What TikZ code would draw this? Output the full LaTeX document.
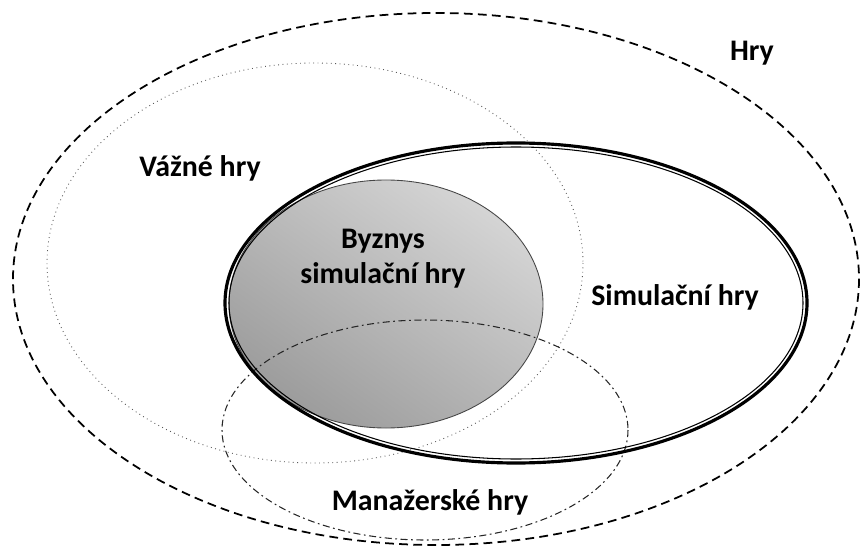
\documentclass[tikz,border=0pt]{standalone}
\usepackage{fontspec}
\setmainfont{Carlito}

\begin{document}
\begin{tikzpicture}[x=0.02cm,y=-0.02cm]
    \tikzstyle{gamename}=[font=\bfseries\fontsize{17}{20}\selectfont,align=center,inner sep=0pt]
    \useasboundingbox (0,0) rectangle (865,547);

    % Byznys simulacni hry
    \shade[top color=gray!33, middle color=gray!42, bottom color=gray!78, shading angle=-35]
        (386,304) ellipse [x radius=157, y radius=124];
    \draw[gray!55!black, line width=0.5pt] (386,304) ellipse [x radius=157, y radius=124];

    % Hry, Vazne hry, Manazerske hry
    \draw[line width=1pt, dash pattern=on 5pt off 3pt] (436,279) ellipse [x radius=423, y radius=266];
    \draw[gray!70!black, line width=0.5pt, dotted] (315,263) ellipse [x radius=268, y radius=200];
    \draw[gray!30!black, line width=0.6pt, dash pattern=on 4pt off 2pt on 1pt off 2pt]
        (425,430) ellipse [x radius=203, y radius=110];

    % Simulacni hry
    \draw[line width=1.8pt] (516,303) ellipse [x radius=291, y radius=160];
    \draw[line width=0.6pt] (516,303) ellipse [x radius=287, y radius=156];

    \foreach \name/\x/\y/\txt in {hry/752/53/Hry, vazne/200/168/Vážné hry,
            byznys/383/259/{Byznys\\simulační hry}, simul/675/297/Simulační hry,
            manazer/430/502/Manažerské hry}
        \node[gamename] (\name) at (\x,\y) {\txt};
\end{tikzpicture}
\end{document}
